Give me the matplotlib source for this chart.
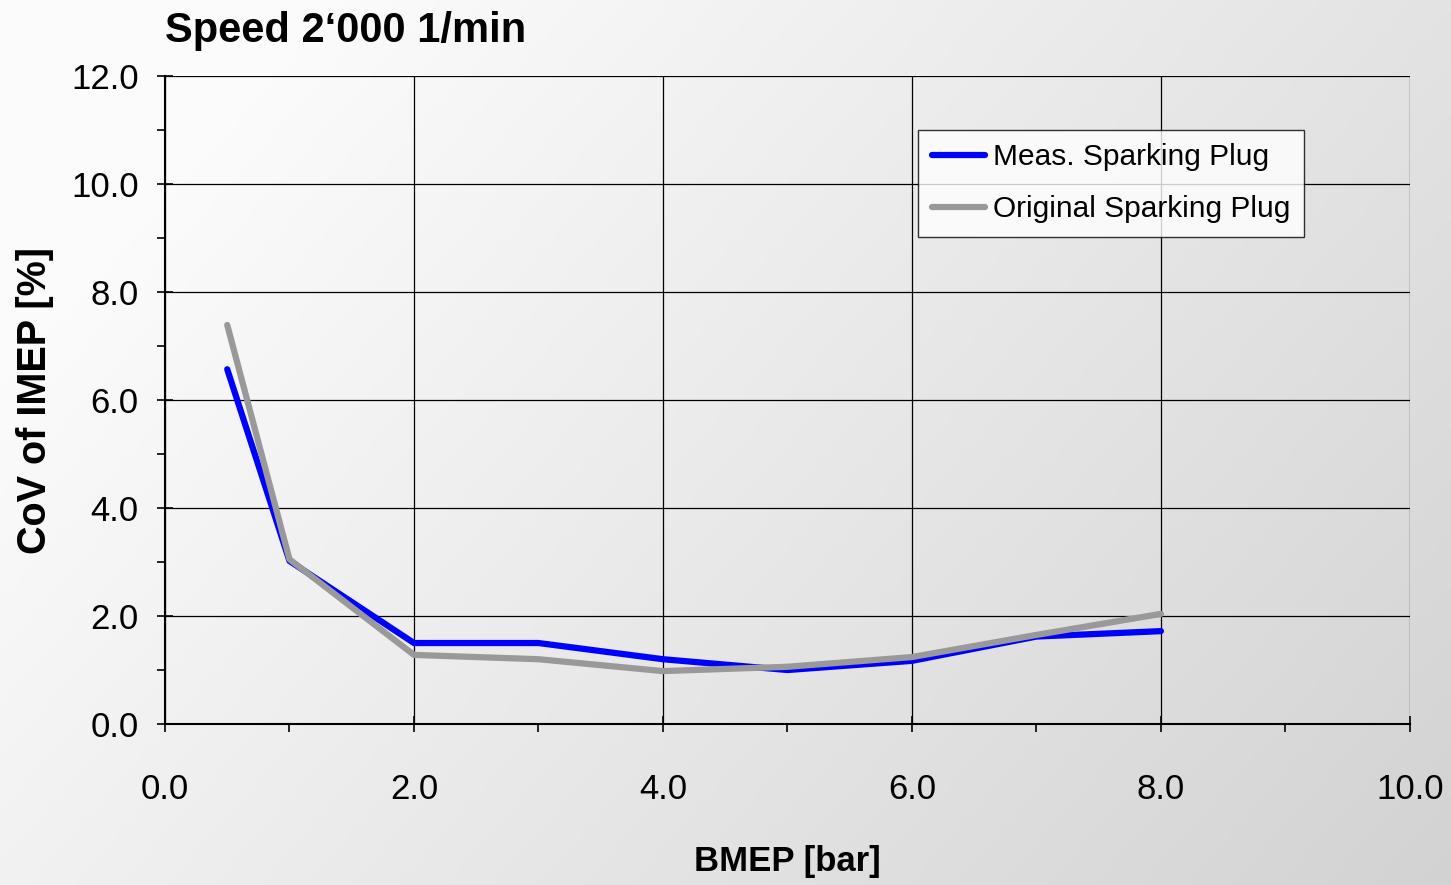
import numpy as np
import matplotlib.pyplot as plt
from matplotlib.ticker import MultipleLocator

bmep = [0.5, 1, 2, 3, 4, 5, 6, 7, 8]
cov_meas = [6.57, 3.02, 1.5, 1.5, 1.2, 1.0, 1.17, 1.62, 1.72]
cov_orig = [7.39, 3.05, 1.28, 1.2, 0.98, 1.06, 1.24, 1.65, 2.04]

plt.rcParams['font.family'] = ['Liberation Sans', 'DejaVu Sans']

fig = plt.figure(figsize=(14.51, 8.85), dpi=100)

# background gradient (near white top-left -> light grey bottom-right)
bg = fig.add_axes([0, 0, 1, 1], zorder=-10)
gx, gy = np.meshgrid(np.linspace(0, 1, 300), np.linspace(0, 1, 200))
t = np.clip((gx * 0.65 + gy * 0.35 - 0.15) / 0.85, 0, 1)
shade = 0.985 - 0.16 * t
bg.imshow(np.dstack([shade, shade, shade]), aspect='auto',
          extent=[0, 1, 0, 1], origin='upper')
bg.axis('off')

ax = fig.add_axes([0.1137, 0.1819, 0.858, 0.7322])
ax.patch.set_alpha(0)

ax.plot(bmep, cov_meas, color='#0000ff', lw=4.5, solid_capstyle='round',
        label='Meas. Sparking Plug')
ax.plot(bmep, cov_orig, color='#999999', lw=4.5, solid_capstyle='round',
        label='Original Sparking Plug')

ax.set_xlim(0, 10)
ax.set_ylim(0, 12)
ax.xaxis.set_major_locator(MultipleLocator(2))
ax.xaxis.set_minor_locator(MultipleLocator(1))
ax.yaxis.set_major_locator(MultipleLocator(2))
ax.yaxis.set_minor_locator(MultipleLocator(1))
ax.xaxis.set_major_formatter(lambda v, p: f'{v:.1f}')
ax.yaxis.set_major_formatter(lambda v, p: f'{v:.1f}')
ax.grid(True, which='major', color='black', lw=0.9)

for s in ['top', 'right']:
    ax.spines[s].set_visible(False)
for s in ['left', 'bottom']:
    ax.spines[s].set_linewidth(1.5)

ax.tick_params(which='major', direction='inout', length=12, width=1.2,
               labelsize=25)
ax.tick_params(which='minor', direction='out', length=6, width=1.2)
ax.tick_params(axis='x', which='major', pad=29)
ax.tick_params(axis='y', which='major', pad=13)

ax.set_xlabel('BMEP [bar]', fontsize=25, fontweight='bold', labelpad=28)
ax.set_ylabel('CoV of IMEP [%]', fontsize=28.5, fontweight='bold', labelpad=12)

fig.text(0.1137, 0.965, 'Speed 2\u2018000 1/min', fontsize=30,
         fontweight='bold', va='center', ha='left')

leg = ax.legend(loc='upper left', bbox_to_anchor=(0.605, 0.917), fontsize=21.5,
                frameon=True, fancybox=False, handlelength=1.8,
                handletextpad=0.25, borderpad=0.45, labelspacing=0.8,
                borderaxespad=0)
leg.get_frame().set_edgecolor('black')
leg.get_frame().set_linewidth(1)
leg.get_frame().set_facecolor('white')

fig.savefig('out.png', dpi=100)
